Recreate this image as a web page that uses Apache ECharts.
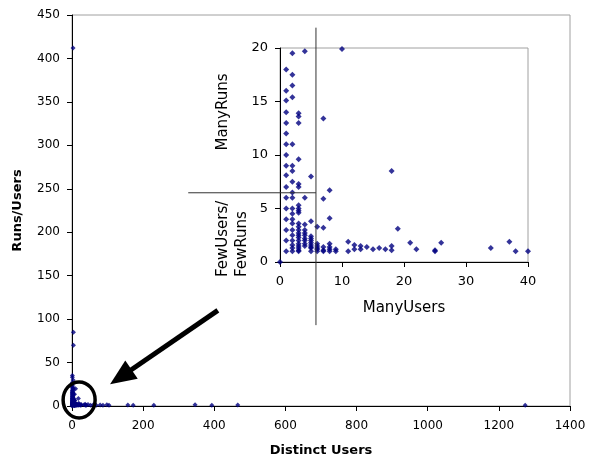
<!DOCTYPE html>
<html>
<head>
<meta charset="UTF-8">
<title>Runs/Users vs Distinct Users</title>
<script src="https://cdn.jsdelivr.net/npm/echarts@6/dist/echarts.min.js"></script>
<style>
    html, body { margin: 0; padding: 0; background: #fff; }
    #chart { width: 590px; height: 462px; }
</style>
</head>
<body>
<div id="chart"></div>
<script>
// distinct users per program and runs per user
const distinctUsers = [
    0,
    1, 1, 1, 1, 1, 1, 1, 1, 1, 1, 1, 1, 1, 1, 1, 1, 1, 1, 1, 1, 1, 1,
    2, 2, 2, 2, 2, 2, 2, 2, 2, 2, 2, 2, 2, 2, 2, 2, 2, 2, 2, 2, 2,
    3, 3, 3, 3, 3, 3, 3, 3, 3, 3, 3, 3, 3, 3, 3, 3, 3, 3, 3, 3, 3, 3, 3, 3,
    4, 4, 4, 4, 4, 4, 4, 4, 4, 4, 4, 4,
    5, 5, 5, 5, 5, 5, 5, 5, 5, 5,
    6, 6, 6, 6, 6, 6,
    7, 7, 7, 7, 7, 7,
    8, 8, 8, 8, 8, 8,
    9, 9, 10, 11, 11, 12, 12, 13, 13, 14, 15, 16, 17,
    18, 18, 18, 19, 21, 22, 25, 25, 26, 34, 37, 38, 40,
    45, 52, 60, 68, 79, 87, 98, 104, 157, 172, 230, 346, 393, 466, 1274
];
const runsPerUser = [
    0,
    18, 16, 15.1, 14, 13, 12, 11, 10, 9, 8.1, 7, 6, 5, 4, 3, 2, 1, 21, 24, 27, 33, 35,
    19.5, 17.5, 16.5, 15.4, 11, 9, 8.5, 7.5, 6.5, 6, 5, 4.5, 4, 3.6, 3, 2.5, 2, 1.6, 1.3, 1, 22, 30, 412,
    13.9, 13.6, 13, 9.6, 7.3, 7, 5.3, 5, 4.8, 4.6, 3.6, 3.3, 3, 2.7, 2.5, 2.3, 2, 1.7, 1.5, 1.3, 1.1, 1, 85, 70,
    19.7, 6, 3.5, 3, 2.7, 2.5, 2.2, 2, 1.7, 1.5, 1.3, 1,
    8, 3.8, 2.4, 2.2, 2, 1.8, 1.6, 1.4, 1.2, 1,
    3.3, 1.7, 1.5, 1.3, 1.1, 1,
    13.4, 5.9, 3.2, 1.4, 1.2, 1,
    6.7, 4.1, 1.7, 1.4, 1.2, 1,
    19.9, 1, 1.9, 1.6, 1.2, 1.5, 1.2, 1.4, 1.2, 1.3, 1.2, 1.5, 1.1,
    8.5, 3.1, 1.8, 1.2, 1, 1.1, 1.8, 1.3, 1.9, 1, 1, 1.8, 1,
    1.5, 1, 1.2, 1, 1.3, 1, 1.2, 1, 1, 1.5, 1, 1.2, 1, 1.3, 1
];

// axis ranges and ticks
const mainX = { min: 0, max: 1400, step: 200 };
const mainY = { min: 0, max: 450, step: 50 };
const zoomX = { min: 0, max: 40, step: 10 };
const zoomY = { min: 0, max: 20, step: 5 };

// quadrant split lines in the inset (inset axis units)
const splitUsers = 5.8, splitRuns = 6.47;
const splitTop = 21.9, splitBottom = -5.9, splitLeft = -14.8;

// arrow + ring annotation (main axis units)
const arrowTail = [410, 110], arrowTip = [107, 25];
const ringCenter = [20, 7];

const points = distinctUsers.map((u, i) => [u, runsPerUser[i]]);
const insetPoints = points.filter(p => p[0] <= zoomX.max && p[1] <= zoomY.max);

const tickFont = { fontFamily: 'DejaVu Sans', fontSize: 12, color: '#000' };
const insetFont = { fontFamily: 'DejaVu Sans', fontSize: 13, color: '#000' };
const axisLine = { lineStyle: { color: '#000', width: 1 } };

const chart = echarts.init(document.getElementById('chart'));
chart.setOption({
    animation: false,
    backgroundColor: '#fff',
    grid: [
        { left: 72, top: 15, right: 20, bottom: 54, show: true, borderColor: '#a0a0a0', borderWidth: 1, backgroundColor: '#fff' },
        { left: 280, top: 48, right: 62, bottom: 200, show: true, borderColor: '#a0a0a0', borderWidth: 1, backgroundColor: '#fff' }
    ],
    xAxis: [
        {
            gridIndex: 0, type: 'value', min: mainX.min, max: mainX.max, interval: mainX.step,
            axisLine: axisLine, axisTick: { length: 5, lineStyle: { color: '#000' } },
            axisLabel: Object.assign({ margin: 14, formatter: v => String(v) }, tickFont),
            splitLine: { show: false },
            name: 'Distinct Users', nameLocation: 'middle', nameGap: 38,
            nameTextStyle: { fontFamily: 'DejaVu Sans', fontSize: 13, fontWeight: 'bold', color: '#000' }
        },
        {
            gridIndex: 1, type: 'value', min: zoomX.min, max: zoomX.max, interval: zoomX.step,
            axisLine: axisLine, axisTick: { length: 5, lineStyle: { color: '#000' } },
            axisLabel: Object.assign({ margin: 13 }, insetFont),
            splitLine: { show: false },
            name: 'ManyUsers', nameLocation: 'middle', nameGap: 39,
            nameTextStyle: { fontFamily: 'DejaVu Sans', fontSize: 15, color: '#000' }
        }
    ],
    yAxis: [
        {
            gridIndex: 0, type: 'value', min: mainY.min, max: mainY.max, interval: mainY.step,
            axisLine: axisLine, axisTick: { length: 5, lineStyle: { color: '#000' } },
            axisLabel: Object.assign({ margin: 12 }, tickFont),
            splitLine: { show: false },
            name: 'Runs/Users', nameLocation: 'middle', nameGap: 48,
            nameTextStyle: { fontFamily: 'DejaVu Sans', fontSize: 13, fontWeight: 'bold', color: '#000' }
        },
        {
            gridIndex: 1, type: 'value', min: zoomY.min, max: zoomY.max, interval: zoomY.step,
            axisLine: axisLine, axisTick: { length: 5, lineStyle: { color: '#000' } },
            axisLabel: Object.assign({ margin: 12 }, insetFont),
            splitLine: { show: false }
        }
    ],
    series: [
        {
            type: 'scatter', xAxisIndex: 0, yAxisIndex: 0,
            symbol: 'diamond', symbolSize: 5,
            itemStyle: { color: '#000080' },
            data: points
        },
        {
            type: 'scatter', xAxisIndex: 1, yAxisIndex: 1,
            symbol: 'diamond', symbolSize: 6, clip: false,
            itemStyle: { color: '#000080' },
            data: insetPoints
        }
    ]
});

// annotations placed through the axes
function px(grid, v) {
    return chart.convertToPixel({ gridIndex: grid }, v);
}

const vTop = px(1, [splitUsers, splitTop]);
const vBot = px(1, [splitUsers, splitBottom]);
const hLeft = px(1, [splitLeft, splitRuns]);
const hRight = px(1, [splitUsers, splitRuns]);

const tail = px(0, arrowTail);
const tip = px(0, arrowTip);
const dx = tip[0] - tail[0], dy = tip[1] - tail[1];
const len = Math.sqrt(dx * dx + dy * dy);
const ux = dx / len, uy = dy / len;
const headLen = 26, headHalf = 11;
const base = [tip[0] - ux * headLen, tip[1] - uy * headLen];
const ring = px(0, ringCenter);

const insetLeft = px(1, [0, 0])[0];

chart.setOption({
    graphic: [
        { type: 'line', shape: { x1: vTop[0], y1: vTop[1], x2: vBot[0], y2: vBot[1] }, style: { stroke: '#333', lineWidth: 1 }, z: 10 },
        { type: 'line', shape: { x1: hLeft[0], y1: hLeft[1], x2: hRight[0], y2: hRight[1] }, style: { stroke: '#333', lineWidth: 1 }, z: 10 },
        { type: 'line', shape: { x1: tail[0], y1: tail[1], x2: base[0] + ux * 2, y2: base[1] + uy * 2 }, style: { stroke: '#000', lineWidth: 5 }, z: 10 },
        {
            type: 'polygon', z: 10,
            shape: { points: [tip, [base[0] - uy * headHalf, base[1] + ux * headHalf], [base[0] + uy * headHalf, base[1] - ux * headHalf]] },
            style: { fill: '#000' }
        },
        { type: 'ellipse', shape: { cx: ring[0], cy: ring[1], rx: 16, ry: 18 }, style: { fill: null, stroke: '#000', lineWidth: 3.5 }, z: 10 },
        {
            type: 'text', x: insetLeft - 57, y: 112, rotation: Math.PI / 2, z: 10,
            style: { text: 'ManyRuns', fontFamily: 'DejaVu Sans', fontSize: 15, fill: '#000', textAlign: 'center', textVerticalAlign: 'middle' }
        },
        {
            type: 'text', x: insetLeft - 57, y: 277, rotation: Math.PI / 2, z: 10,
            style: { text: 'FewUsers/', fontFamily: 'DejaVu Sans', fontSize: 15, fill: '#000', textAlign: 'left', textVerticalAlign: 'middle' }
        },
        {
            type: 'text', x: insetLeft - 38, y: 277, rotation: Math.PI / 2, z: 10,
            style: { text: 'FewRuns', fontFamily: 'DejaVu Sans', fontSize: 15, fill: '#000', textAlign: 'left', textVerticalAlign: 'middle' }
        }
    ]
});
</script>
</body>
</html>
